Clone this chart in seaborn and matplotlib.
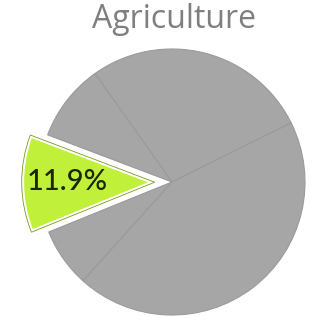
import matplotlib
matplotlib.use("Agg")
import matplotlib.pyplot as plt
import matplotlib.patches as mpatches
import seaborn as sns

sns.set_theme(style="white")
plt.rcParams['font.family'] = ['Open Sans', 'DejaVu Sans']

title = "Agriculture"
categories = ["A", "B", "Agriculture", "D", "E"]
shares = [27.5, 9.4, 11.9, 7.2, 44.0]
highlight = "Agriculture"

W, H = 318, 324
fig = plt.figure(figsize=(W / 100, H / 100), dpi=100)
ax = fig.add_axes([0, 0, 1, 1])

cx, cy, r = 172, 182, 133  # pixel centre and radius
gray = "#a6a6a6"
green = "#c0f03a"
colors = [green if c == highlight else gray for c in categories]
explode = [0.13 if c == highlight else 0 for c in categories]

wedges, _ = ax.pie(shares, colors=colors, explode=explode, startangle=26.4,
                   counterclock=True, radius=1,
                   wedgeprops=dict(edgecolor="#9a9a9a", linewidth=0.8))
for w, c in zip(wedges, categories):
    if c == highlight:
        w.set_edgecolor("white")
        w.set_linewidth(3.5)
        w.set_zorder(3)
        inner = mpatches.Wedge(w.center, w.r, w.theta1, w.theta2,
                               facecolor="none", edgecolor="#7a9a20",
                               linewidth=0.6, zorder=4)
        ax.add_patch(inner)
        idx = categories.index(c)
        ax.text(w.center[0] - 0.66, w.center[1] + 0.005, f"{shares[idx]:.1f}%",
                ha="center", va="center", fontsize=21, color="#1a2604", zorder=5,
                family=["Lato", "DejaVu Sans"], fontweight="medium")

ax.set_xlim(-cx / r, (W - cx) / r)
ax.set_ylim(-(H - cy) / r, cy / r)
ax.set_aspect("auto")
ax.axis("off")

fig.text(174 / W, 1 - 19 / H, title, ha="center", va="center",
         fontsize=23, color="#7f7f7f")

fig.savefig("out.png", dpi=100)
